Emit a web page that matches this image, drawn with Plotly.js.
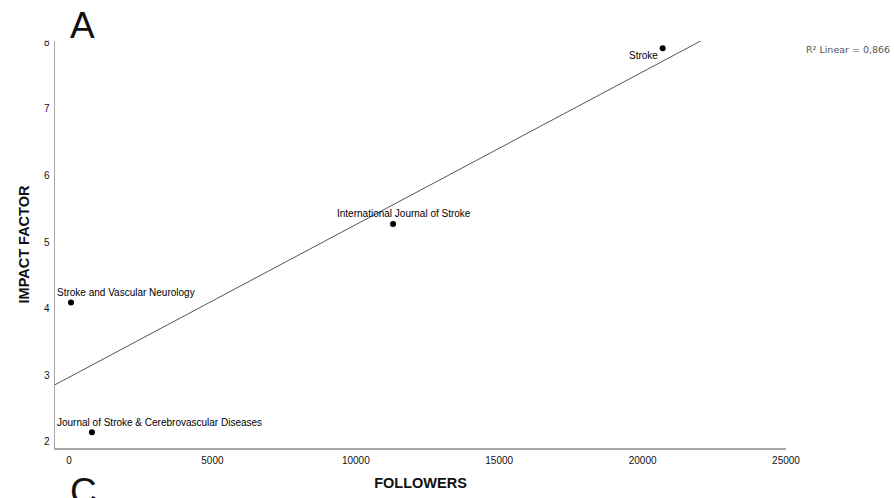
<!DOCTYPE html>
<html>
<head>
<meta charset="utf-8">
<script src="https://cdn.plot.ly/plotly-3.0.1.min.js"></script>
<style>
  html, body { margin: 0; padding: 0; background: #fff; }
  #chart { width: 894px; height: 498px; }
</style>
</head>
<body>
<div id="chart"></div>
<script>
// Journals: Twitter followers vs. impact factor
const journals = [
  "Stroke",
  "International Journal of Stroke",
  "Stroke and Vascular Neurology",
  "Journal of Stroke & Cerebrovascular Diseases"
];
const followers = [20700, 11300, 70, 800];
const impactFactor = [7.91, 5.27, 4.09, 2.14];
const r2Label = "R\u00b2 Linear = 0,866";

const xTicks = [0, 5000, 10000, 15000, 20000, 25000];
const yTicks = [2, 3, 4, 5, 6, 7, 8];

const X_RANGE = [-488, 25000];
const Y_RANGE = [1.905, 8.02];

// Least-squares fit line across the x range
function linearFit(xs, ys) {
  const n = xs.length;
  const mx = xs.reduce((a, b) => a + b, 0) / n;
  const my = ys.reduce((a, b) => a + b, 0) / n;
  let sxy = 0, sxx = 0;
  for (let i = 0; i < n; i++) {
    sxy += (xs[i] - mx) * (ys[i] - my);
    sxx += (xs[i] - mx) * (xs[i] - mx);
  }
  const slope = sxy / sxx;
  return { slope: slope, intercept: my - slope * mx };
}
const fit = linearFit(followers, impactFactor);
const fitX = [X_RANGE[0], X_RANGE[1]];
const fitY = fitX.map(v => fit.intercept + fit.slope * v);

const fitTrace = {
  x: fitX, y: fitY, type: "scatter", mode: "lines",
  line: { color: "#555", width: 1 }, hoverinfo: "skip", showlegend: false
};
const pointTrace = {
  x: followers, y: impactFactor, type: "scatter", mode: "markers",
  marker: { color: "#000", size: 6 }, text: journals, showlegend: false
};

// label placement per journal: [x anchor value, xanchor, xshift, yshift]
const labelPos = [
  [followers[0], "right", -3, -7],
  [followers[1], "center", 11, 11],
  [X_RANGE[0], "left", 0, 10],
  [X_RANGE[0], "left", 0, 10]
];
const pointLabels = journals.map((name, i) => ({
  x: labelPos[i][0], y: impactFactor[i], xref: "x", yref: "y",
  text: name, showarrow: false, xanchor: labelPos[i][1], yanchor: "middle",
  xshift: labelPos[i][2], yshift: labelPos[i][3],
  font: { family: "Liberation Sans, Arial, sans-serif", size: 10, color: "#000" }
}));

const layout = {
  width: 894, height: 498,
  margin: { l: 55, r: 108, t: 41, b: 50 },
  paper_bgcolor: "#fff", plot_bgcolor: "#fff",
  showlegend: false,
  font: { family: "Liberation Sans, Arial, sans-serif", color: "#111" },
  xaxis: {
    range: X_RANGE, tickvals: xTicks, ticktext: xTicks.map(String),
    showgrid: false, zeroline: false, showline: true,
    linecolor: "#a8a8a8", linewidth: 1.5, ticks: "",
    ticklabelstandoff: 2,
    tickfont: { size: 10, color: "#111" },
    title: { text: "<b>FOLLOWERS</b>", font: { size: 14.5, color: "#111" }, standoff: 13 }
  },
  yaxis: {
    range: Y_RANGE, tickvals: yTicks, ticktext: yTicks.map(String),
    showgrid: false, zeroline: false, showline: true,
    linecolor: "#a8a8a8", linewidth: 1.5, ticks: "",
    ticklabelstandoff: 2,
    tickfont: { size: 10, color: "#111" },
    title: { text: "<b>IMPACT FACTOR</b>", font: { size: 14.5, color: "#111" }, standoff: 11 }
  },
  shapes: [
    // white band over the top of the panel, above the y-axis
    { type: "rect", xref: "paper", yref: "paper", x0: -0.06, x1: -0.002, y0: 1.0015, y1: 1.2,
      fillcolor: "#fff", line: { width: 0 }, layer: "above" }
  ],
  annotations: pointLabels.concat([
    { xref: "paper", yref: "paper", x: 1.0246, y: 0.980, xanchor: "left", yanchor: "middle",
      text: r2Label, showarrow: false,
      font: { family: "DejaVu Sans, sans-serif", size: 9.5, color: "#555" } },
    { xref: "paper", yref: "paper", x: 0.0376, y: 1.0393, xanchor: "center", yanchor: "middle",
      text: "A", showarrow: false,
      font: { family: "Liberation Sans, Arial, sans-serif", size: 37, color: "#111" } },
    // panel letter of the next figure, partly below the frame
    { xref: "paper", yref: "paper", x: 0.0386, y: -0.1057, xanchor: "center", yanchor: "middle",
      text: "C", showarrow: false,
      font: { family: "Liberation Sans, Arial, sans-serif", size: 37, color: "#111" } }
  ])
};

Plotly.newPlot("chart", [fitTrace, pointTrace], layout, { displayModeBar: false, staticPlot: true });
</script>
</body>
</html>
